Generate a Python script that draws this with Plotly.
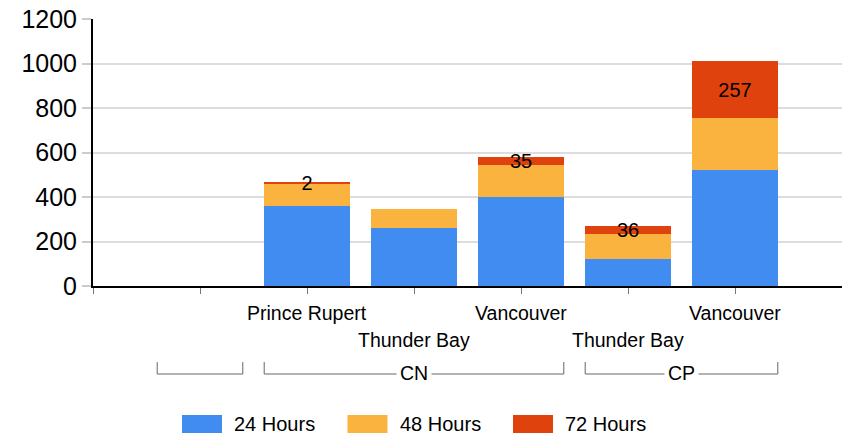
import plotly.graph_objects as go

categories = ["", "Prince Rupert", "Thunder Bay", "Vancouver", "Thunder Bay", "Vancouver"]
groups = ["", "CN", "CN", "CN", "CP", "CP"]
series_names = ["24 Hours", "48 Hours", "72 Hours"]
h24 = [0, 361, 261, 401, 120, 520]
h48 = [0, 101, 85, 143, 115, 233]
h72 = [0, 2, 0, 35, 36, 257]
y_ticks = [0, 200, 400, 600, 800, 1000, 1200]

colors = ["#418CF0", "#FBB33F", "#DF420C"]
FONT = "Liberation Sans, Arial, sans-serif"

W, H = 848, 438
ML, MR, MT, MB = 93, 6, 19, 152
PW, PH = W - ML - MR, H - MT - MB

x = list(range(len(categories)))
fig = go.Figure()
for name, vals, col in zip(series_names, [h24, h48, h72], colors):
    show_text = name == "72 Hours"
    fig.add_trace(go.Bar(
        x=x, y=vals, name=name, marker=dict(color=col, line=dict(width=0)),
        width=0.8,
        text=[str(v) if (show_text and v > 0) else "" for v in vals],
        textposition="inside" if show_text else "none",
        insidetextanchor="middle", constraintext="none", textangle=0,
        textfont=dict(color="black", size=20, family=FONT),
        showlegend=False, hoverinfo="skip",
    ))

annotations = []
shapes = []
# category labels, staggered in two rows
for i, lab in enumerate(categories):
    if not lab:
        continue
    row = 0 if i % 2 == 1 else 1
    annotations.append(dict(x=i, y=0, xref="x", yref="paper", text=lab, showarrow=False,
                            yanchor="middle", xanchor="center", yshift=-27 - 27 * row,
                            font=dict(size=19.5, color="black", family=FONT)))

# group brackets
grp_order = []
for g in groups:
    if g not in grp_order:
        grp_order.append(g)
bar_half = 0.4
line_col = "#666666"
for g in grp_order:
    idx = [i for i, gg in enumerate(groups) if gg == g]
    x0, x1 = min(idx) - bar_half, max(idx) + bar_half
    common = dict(xref="x", yref="paper", ysizemode="pixel", yanchor=0,
                  line=dict(color=line_col, width=1))
    shapes.append(dict(type="line", x0=x0, x1=x1, y0=-88, y1=-88, **common))
    shapes.append(dict(type="line", x0=x0, x1=x0, y0=-76, y1=-88, **common))
    shapes.append(dict(type="line", x0=x1, x1=x1, y0=-76, y1=-88, **common))
    if g:
        annotations.append(dict(x=(min(idx) + max(idx)) / 2, y=0, xref="x", yref="paper",
                                text=g, showarrow=False, yanchor="middle", yshift=-87,
                                bgcolor="white", borderpad=3,
                                font=dict(size=19.5, color="black", family=FONT)))

# custom legend
def px_to_paper_x(px):
    return (px - ML) / PW

def px_to_paper_y(py):
    return (H - MB - py) / PH

leg_start = 182
leg_step = 165.5
for k, (name, col) in enumerate(zip(series_names, colors)):
    sx = leg_start + k * leg_step
    shapes.append(dict(type="rect", xref="paper", yref="paper",
                       x0=px_to_paper_x(sx), x1=px_to_paper_x(sx + 40),
                       y0=px_to_paper_y(415), y1=px_to_paper_y(433),
                       fillcolor=col, line=dict(width=0)))
    annotations.append(dict(x=px_to_paper_x(sx + 50), y=px_to_paper_y(424), xref="paper", yref="paper",
                            text=name, showarrow=False, xanchor="left", yanchor="middle",
                            font=dict(size=20, color="black", family=FONT)))

fig.update_layout(
    width=W, height=H, barmode="stack",
    margin=dict(l=ML, r=MR, t=MT, b=MB),
    paper_bgcolor="white", plot_bgcolor="white",
    font=dict(family=FONT, color="black"),
    showlegend=False,
    annotations=annotations, shapes=shapes,
    xaxis=dict(range=[-1, 6], tickvals=list(range(-1, 6)), ticktext=[""] * 7,
               ticks="outside", ticklen=6, tickcolor="#777777", tickwidth=1,
               showline=True, linecolor="black", linewidth=2, showgrid=False, zeroline=False,
               fixedrange=True),
    yaxis=dict(range=[0, 1200], tickvals=y_ticks, ticks="outside", ticklen=9,
               tickcolor="#cccccc", tickwidth=2, showline=True, linecolor="black", linewidth=2,
               showgrid=True, gridcolor="#dddddd", gridwidth=2, zeroline=False,
               tickfont=dict(size=25, color="black", family=FONT), ticklabelstandoff=0,
               fixedrange=True),
)

fig.write_html("out.html", config={"displayModeBar": False},
               post_script="document.body.style.margin='0';document.body.style.overflow='hidden';")
